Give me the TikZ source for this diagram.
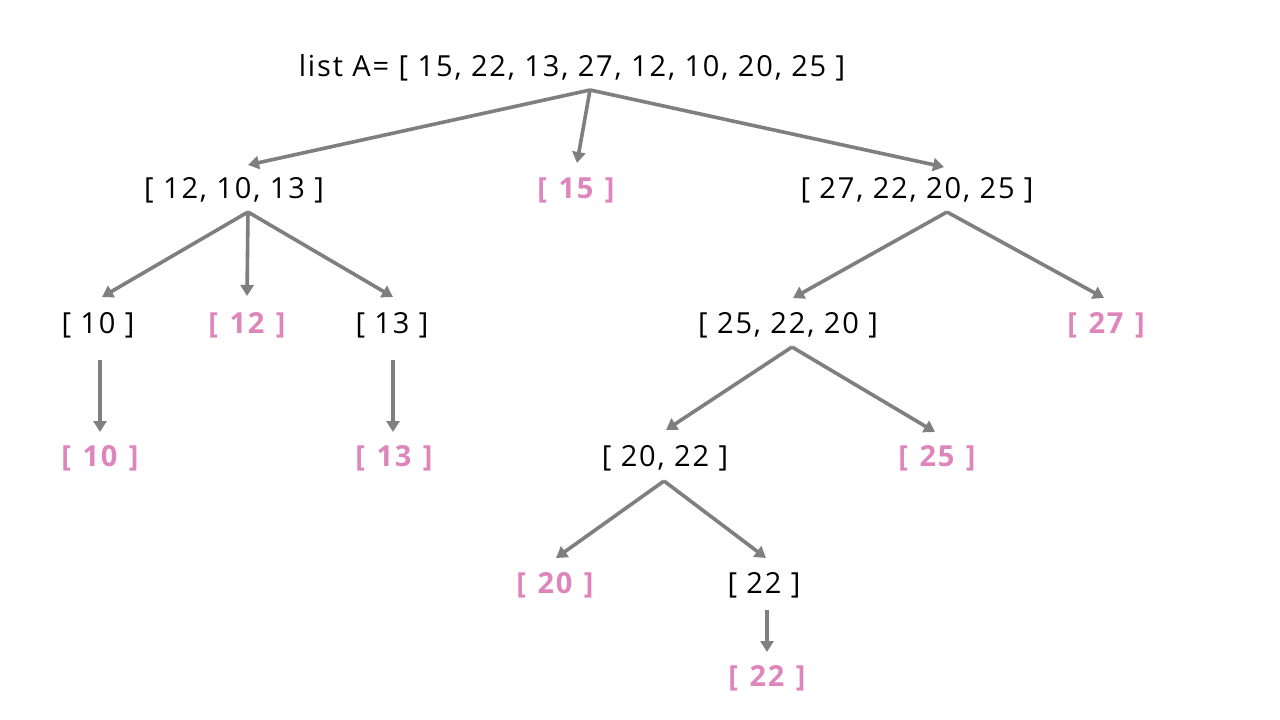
\documentclass[tikz,border=0pt]{standalone}
\usepackage{fontspec}
\setmainfont{Open Sans}[LetterSpace=6.4]
\usetikzlibrary{arrows.meta,calc}
\definecolor{pinkc}{RGB}{222,134,188}
\definecolor{grayc}{RGB}{127,127,127}
\begin{document}
\begin{tikzpicture}[x=1pt,y=-1pt,
  lab/.style={inner sep=0pt,font=\fontsize{29}{32}\selectfont,text=black},
  leaf/.style={inner sep=0pt,font={\fontsize{29}{32}\selectfont\bfseries\spaceskip=11.5pt\relax},text=pinkc},
  arr/.style={draw=grayc,line width=3.6pt,-{Triangle[length=11pt,width=13pt]}}]
\useasboundingbox[fill=white] (0,0) rectangle (1280,720);
\node[lab] (root) at (572,68) {list A=\ [ 15, 22, 13, 27, 12, 10, 20, 25 ]};
\node[lab] (n1) at (234,190) {[ 12, 10, 13 ]};
\node[leaf] (n15) at (576,190) {[ 15 ]};
\node[lab] (n2) at (917,190) {[ 27, 22, 20, 25 ]};
\node[lab] (a10) at (98,325) {[ 10 ]};
\node[leaf] (a12) at (247,325) {[ 12 ]};
\node[lab] (a13) at (392,325) {[ 13 ]};
\node[lab] (b) at (788,325) {[ 25, 22, 20 ]};
\node[leaf] (b27) at (1106,325) {[ 27 ]};
\node[leaf] (c10) at (100,458) {[ 10 ]};
\node[leaf] (c13) at (394,458) {[ 13 ]};
\node[lab] (d) at (665,458) {[ 20, 22 ]};
\node[leaf] (d25) at (937,458) {[ 25 ]};
\node[leaf] (e20) at (555,585) {[ 20 ]};
\node[lab] (e22) at (764,585) {[ 22 ]};
\node[leaf] (f22) at (767,678) {[ 22 ]};
\draw[arr] ($(root)+(18,22)$) -- ($(n1)+(14,-25)$);
\draw[arr] ($(root)+(18,22)$) -- ($(n15)+(1,-27)$);
\draw[arr] ($(root)+(18,22)$) -- ($(n2)+(27,-23)$);
\draw[arr] ($(n1)+(14,22)$) -- ($(a10)+(4,-28)$);
\draw[arr] ($(n1)+(14,22)$) -- ($(a12)+(0,-29)$);
\draw[arr] ($(n1)+(14,22)$) -- ($(a13)+(1,-28)$);
\draw[arr] ($(n2)+(30,22)$) -- ($(b)+(5,-27)$);
\draw[arr] ($(n2)+(30,22)$) -- ($(b27)+(-2,-27)$);
\draw[arr] ($(a10)+(2,35)$) -- ($(c10)+(0,-26)$);
\draw[arr] ($(a13)+(1,35)$) -- ($(c13)+(-1,-26)$);
\draw[arr] ($(b)+(4,22)$) -- ($(d)+(1,-28)$);
\draw[arr] ($(b)+(4,22)$) -- ($(d25)+(-2,-26)$);
\draw[arr] ($(d)+(-1,23)$) -- ($(e20)+(1,-27)$);
\draw[arr] ($(d)+(-1,23)$) -- ($(e22)+(2,-27)$);
\draw[arr] ($(e22)+(3,25)$) -- ($(f22)+(0,-26)$);
\end{tikzpicture}
\end{document}
